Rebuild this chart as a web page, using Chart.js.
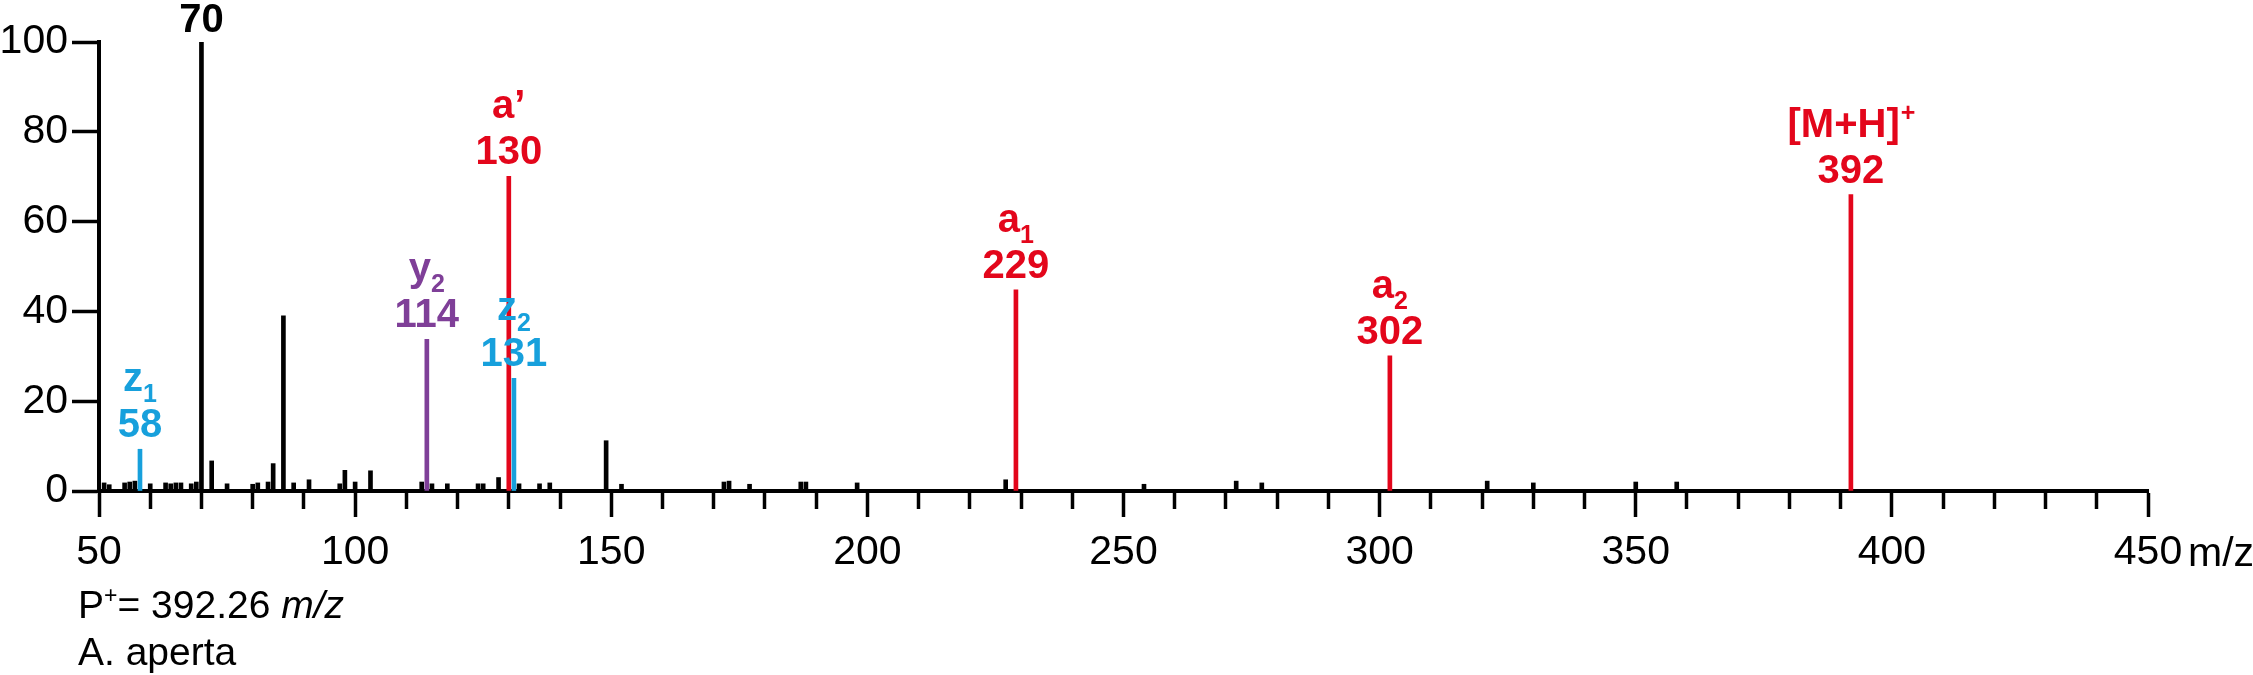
<!DOCTYPE html>
<html>
<head>
<meta charset="utf-8">
<title>MS/MS spectrum</title>
<script src="https://cdn.jsdelivr.net/npm/chart.js@4.4.1/dist/chart.umd.min.js"></script>
<style>
  html, body { margin: 0; padding: 0; background: #fff; }
  canvas { display: block; }
</style>
</head>
<body>
<canvas id="spectrum" width="2253" height="675"></canvas>
<script>
// ===============================
// DATA
// ===============================
// unassigned fragments, drawn in black
const otherMz  = [51, 52, 55, 56, 57, 60, 63, 64, 65, 66, 68, 69, 70, 72, 75, 80, 81, 83, 84, 86,
                  88, 91, 97, 98, 100, 103, 113, 115, 118, 124, 125, 128, 132, 136, 138, 149, 152,
                  172, 173, 177, 187, 188, 198, 227, 254, 272, 277, 321, 330, 350, 358];
const otherInt = [1.8, 1.4, 1.8, 2.0, 2.2, 1.6, 1.8, 1.6, 1.8, 1.8, 1.6, 2.0, 100, 6.7, 1.6, 1.5, 1.8, 2.0, 6.1, 39,
                  1.8, 2.5, 1.6, 4.6, 2.0, 4.5, 2.0, 1.6, 1.6, 1.6, 1.6, 3.0, 1.6, 1.6, 1.8, 11.2, 1.5,
                  2.0, 2.2, 1.5, 2.0, 2.0, 1.8, 2.5, 1.5, 2.2, 1.8, 2.2, 1.8, 2.0, 2.0];
const labelledMz = [70];

// assigned ions
const ionMz     = [58, 114, 130, 131, 229, 302, 392];
const ionInt    = [9.3, 33.8, 70.1, 25.1, 44.8, 30.1, 66.0];
const ionName   = ["z", "y", "a\u2019", "z", "a", "a", "[M+H]"];
const ionSub    = ["1", "2", "", "2", "1", "2", ""];
const ionSup    = ["", "", "", "", "", "", "+"];
const ionSeries = ["z", "y", "a", "z", "a", "a", "a"];

// axes
const xTicks = [50, 100, 150, 200, 250, 300, 350, 400, 450];
const xMinorStep = 10;
const yTicks = [0, 20, 40, 60, 80, 100];

const precursor = "392.26";
const species = "A. aperta";

// ===============================
// STYLE
// ===============================
const FAMILY = "'Liberation Sans', Arial, sans-serif";
const seriesColour = { a: "#e3061b", y: "#7f3f98", z: "#17a0dc" };

// ===============================
// LABELS PLUGIN
// ===============================
const peakLabels = {
  id: "peakLabels",
  afterDraw(chart) {
    const { ctx, chartArea, scales: { x, y } } = chart;
    const big = `bold 40px ${FAMILY}`;
    const small = `bold 25px ${FAMILY}`;
    ctx.save();
    ctx.textBaseline = "alphabetic";

    // base peak number
    labelledMz.forEach(mz => {
      const i = otherMz.indexOf(mz);
      ctx.font = big;
      ctx.fillStyle = "#000";
      ctx.textAlign = "center";
      ctx.fillText(String(mz), x.getPixelForValue(mz), y.getPixelForValue(otherInt[i]) - 10);
    });

    // ion name + m/z
    ionMz.forEach((mz, i) => {
      const px = x.getPixelForValue(mz);
      const numBase = y.getPixelForValue(ionInt[i]) - 12;
      const nameBase = numBase - 46;
      ctx.fillStyle = seriesColour[ionSeries[i]];

      ctx.font = big;
      ctx.textAlign = "center";
      ctx.fillText(String(mz), px, numBase);

      ctx.textAlign = "left";
      const w1 = ctx.measureText(ionName[i]).width;
      const extra = ionSub[i] || ionSup[i];
      ctx.font = small;
      const w2 = extra ? ctx.measureText(extra).width : 0;
      const sx = px - (w1 + w2) / 2;
      ctx.font = big;
      ctx.fillText(ionName[i], sx, nameBase);
      ctx.font = small;
      if (ionSub[i]) ctx.fillText(ionSub[i], sx + w1, nameBase + 11);
      if (ionSup[i]) ctx.fillText(ionSup[i], sx + w1 + 1, nameBase - 16);
    });

    // axis unit next to last tick
    ctx.fillStyle = "#000";
    ctx.font = `41px ${FAMILY}`;
    ctx.textAlign = "left";
    ctx.fillText("m/z", x.getPixelForValue(xTicks[xTicks.length - 1]) + 40, chartArea.bottom + 75);

    // precursor + species lines
    const left = 78;
    let cx = left;
    const base1 = chartArea.bottom + 127;
    ctx.font = `39px ${FAMILY}`;
    ctx.fillText("P", cx, base1);
    cx += ctx.measureText("P").width;
    ctx.font = `23px ${FAMILY}`;
    ctx.fillText("+", cx, base1 - 15);
    cx += ctx.measureText("+").width;
    ctx.font = `39px ${FAMILY}`;
    const mid = "= " + precursor + " ";
    ctx.fillText(mid, cx, base1);
    cx += ctx.measureText(mid).width;
    ctx.font = `italic 39px ${FAMILY}`;
    ctx.fillText("m/z", cx, base1);

    ctx.font = `39px ${FAMILY}`;
    ctx.fillText(species, left, chartArea.bottom + 174);
    ctx.restore();
  }
};

// ===============================
// CHART
// ===============================
const ctx = document.getElementById("spectrum").getContext("2d");

new Chart(ctx, {
  type: "bar",
  data: {
    datasets: [
      {
        label: "fragments",
        data: otherMz.map((m, i) => ({ x: m, y: otherInt[i] })),
        backgroundColor: "#000",
        barThickness: 4,
        grouped: false
      },
      {
        label: "ions",
        data: ionMz.map((m, i) => ({ x: m, y: ionInt[i] })),
        backgroundColor: c => seriesColour[ionSeries[c.dataIndex]],
        barThickness: 4,
        grouped: false
      }
    ]
  },
  options: {
    responsive: false,
    animation: false,
    devicePixelRatio: 1,
    layout: { padding: { top: 42, right: 105, left: 0, bottom: 0 } },
    plugins: { legend: { display: false }, tooltip: { enabled: false } },
    scales: {
      x: {
        type: "linear",
        offset: false,
        min: xTicks[0],
        max: xTicks[xTicks.length - 1],
        z: 1,
        afterFit: s => { s.height = 184; },
        afterBuildTicks: s => {
          const t = [];
          for (let v = xTicks[0]; v <= xTicks[xTicks.length - 1]; v += xMinorStep) t.push({ value: v });
          s.ticks = t;
        },
        ticks: {
          autoSkip: false,
          maxRotation: 0,
          color: "#000",
          padding: 11,
          font: { family: FAMILY, size: 41 },
          callback: v => (xTicks.includes(v) ? String(v) : "")
        },
        grid: {
          offset: false,
          drawOnChartArea: false,
          tickLength: 26,
          tickWidth: 3.5,
          tickColor: "#000",
          tickBorderDash: c => (xTicks.includes(c.tick.value) ? [] : [16, 200])
        },
        border: { display: true, color: "#000", width: 4 }
      },
      y: {
        min: yTicks[0],
        max: yTicks[yTicks.length - 1],
        z: 1,
        afterFit: s => { s.width = 99; },
        afterBuildTicks: s => { s.ticks = yTicks.map(v => ({ value: v })); },
        ticks: {
          color: "#000",
          padding: 4,
          font: { family: FAMILY, size: 41 }
        },
        grid: {
          drawOnChartArea: false,
          tickLength: 27,
          tickWidth: 3.5,
          tickColor: "#000"
        },
        border: { display: true, color: "#000", width: 4 }
      }
    }
  },
  plugins: [peakLabels]
});
</script>
</body>
</html>
